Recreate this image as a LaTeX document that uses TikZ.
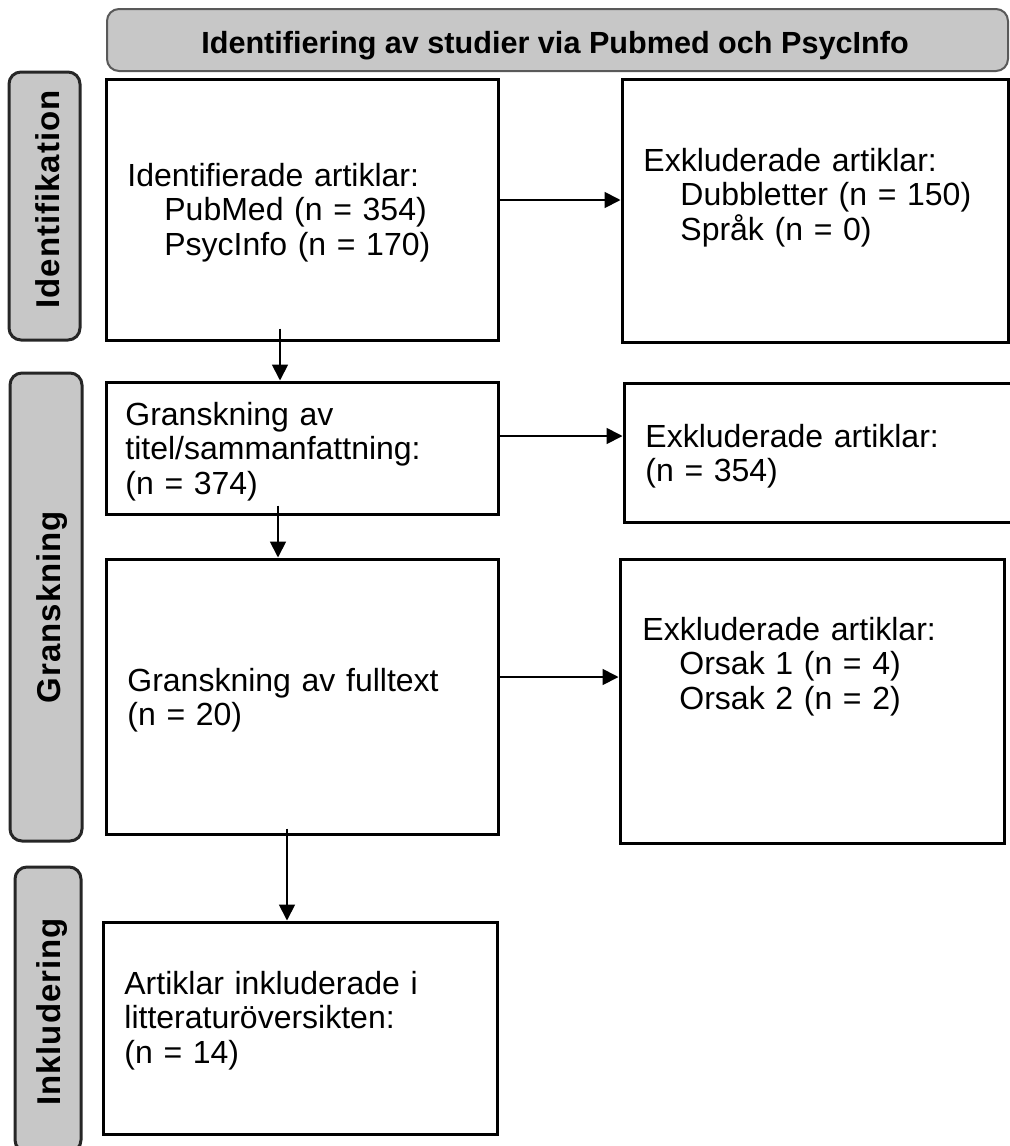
\documentclass[tikz,border=0pt]{standalone}
\usepackage{fontspec}
\setmainfont{Liberation Sans}
\newfontfamily\spacedfont[LetterSpace=3]{Liberation Sans}
\usetikzlibrary{arrows.meta}
\begin{document}
\begin{tikzpicture}[x=0.5pt,y=-0.5pt,
  box/.style={draw=black, line width=1.5pt, rectangle, inner sep=0pt},
  headbox/.style={draw=black!65, line width=1pt, fill=black!22, rounded corners=6pt, inner sep=0pt},
  sidebox/.style={draw=black!85, line width=1.5pt, fill=black!22, rounded corners=6pt, inner sep=0pt},
  txt/.style={anchor=base west, inner sep=0pt, align=left, text width=190pt,
    font=\fontsize{16}{17.25}\selectfont},
  sidetxt/.style={anchor=base, rotate=90, inner sep=0pt,
    font=\spacedfont\bfseries\fontsize{16.5}{18}\selectfont},
  arr/.style={draw=black, line width=0.9pt, -{Triangle[length=8pt,width=8pt]}}
]
\useasboundingbox (0,0) rectangle (1009,1146);

% header
\node[headbox, minimum width=450.5pt, minimum height=31pt] (head) at (557.5,40) {};
\node[anchor=base, inner sep=0pt, font=\bfseries\fontsize{15.3}{17}\selectfont] (headtxt) at (555,53)
  {Identifiering av studier via Pubmed och PsycInfo};

% side labels
\node[sidebox, minimum width=35.5pt, minimum height=134pt] (sIdent) at (44.5,206) {};
\node[sidetxt] (sIdentTxt) at (59,199.5) {Identifikation};
\node[sidebox, minimum width=36pt, minimum height=234pt] (sGransk) at (46,607) {};
\node[sidetxt] (sGranskTxt) at (60,607) {Granskning};
\node[sidebox, minimum width=33pt, minimum height=142.5pt] (sInkl) at (48,1009.5) {};
\node[sidetxt] (sInklTxt) at (60,1012) {Inkludering};

% boxes
\node[box, minimum width=196pt, minimum height=130.5pt] (b1) at (302,209.5) {};
\node[box, minimum width=193pt, minimum height=131.5pt] (e1) at (815,210.5) {};
\node[box, minimum width=196pt, minimum height=66pt] (b2) at (302,448) {};
\node[box, minimum width=196pt, minimum height=69.5pt] (e2) at (820,452.5) {};
\node[box, minimum width=196pt, minimum height=137.5pt] (b3) at (302,696.5) {};
\node[box, minimum width=192pt, minimum height=142pt] (e3) at (812,701) {};
\node[box, minimum width=197pt, minimum height=106pt] (b4) at (300,1028) {};

% texts
\node[txt] (t1) at (127,186) {Identifierade artiklar:\\\hspace*{18.5pt}PubMed (n = 354)\\\hspace*{18.5pt}PsycInfo (n = 170)};
\node[txt] (te1) at (643,171) {Exkluderade artiklar:\\\hspace*{18.5pt}Dubbletter (n = 150)\\\hspace*{18.5pt}Språk (n = 0)};
\node[txt] (t2) at (125,425) {Granskning av\\titel/sammanfattning:\\(n = 374)};
\node[txt] (te2) at (645,447) {Exkluderade artiklar:\\(n = 354)};
\node[txt] (t3) at (127,691) {Granskning av fulltext\\(n = 20)};
\node[txt] (te3) at (642,640) {Exkluderade artiklar:\\\hspace*{18.5pt}Orsak 1 (n = 4)\\\hspace*{18.5pt}Orsak 2 (n = 2)};
\node[txt] (t4) at (124,994) {Artiklar inkluderade i\\litteraturöversikten:\\(n = 14)};

% arrows
\draw[arr] ([yshift=4.75pt]b1.east) -- ([yshift=4.75pt]b1.east -| e1.west);
\draw[arr] ([yshift=6pt]b2.east) -- ([yshift=6pt]b2.east -| e2.west);
\draw[arr] ([yshift=9.75pt]b3.east) -- ([yshift=9.75pt]b3.east -| e3.west);
\draw[arr] ([xshift=-11pt,yshift=6.5pt]b1.south) -- ([xshift=-11pt]b1.south |- b2.north);
\draw[arr] ([xshift=-12pt,yshift=5pt]b2.south) -- ([xshift=-12pt]b2.south |- b3.north);
\draw[arr] ([xshift=-7.5pt,yshift=3.5pt]b3.south) -- ([xshift=-7.5pt]b3.south |- b4.north);
\end{tikzpicture}
\end{document}
